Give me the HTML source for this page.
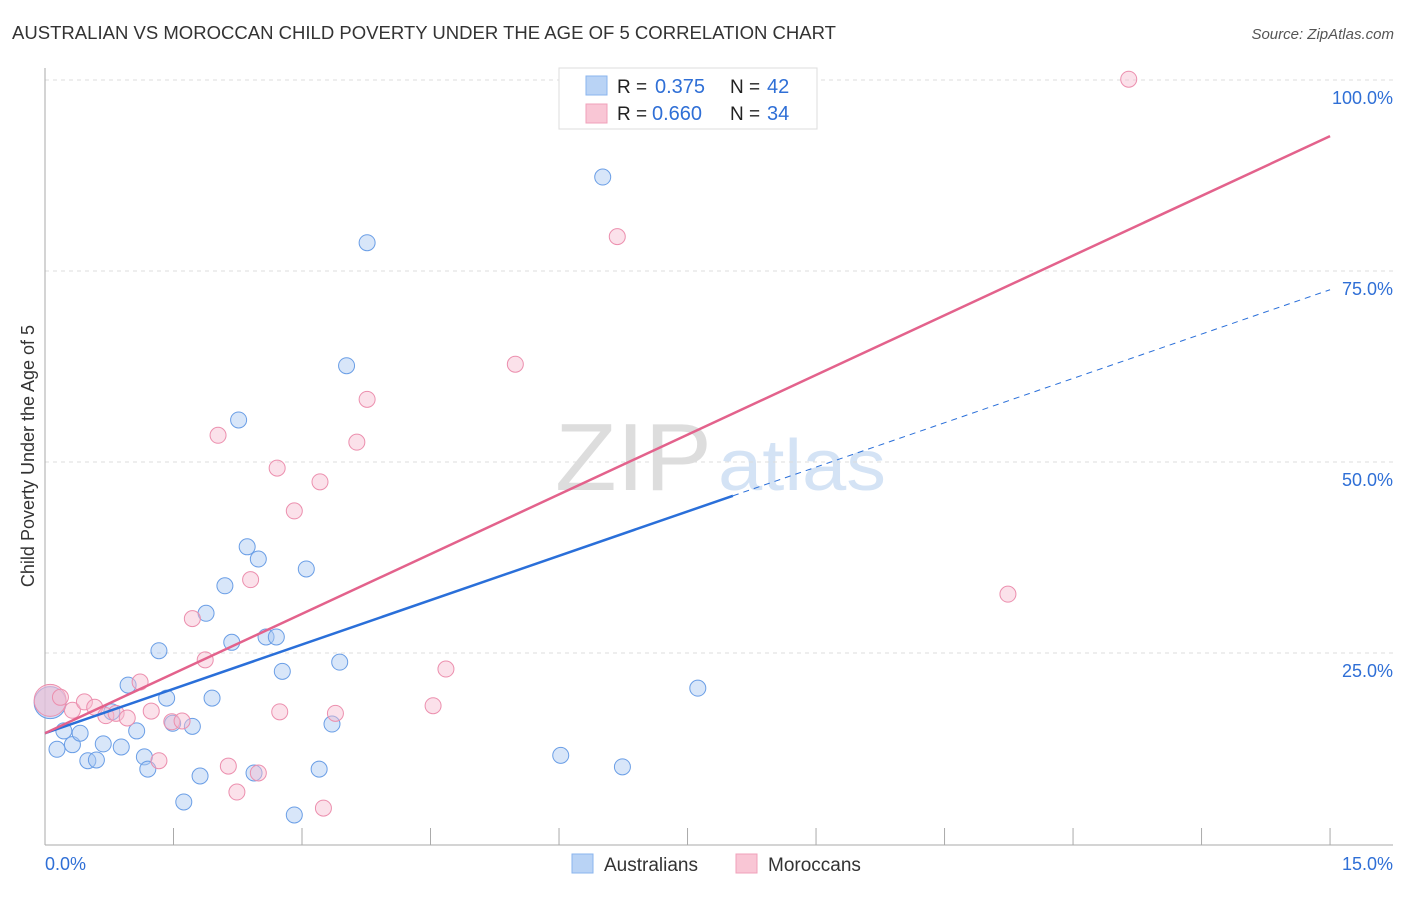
<!DOCTYPE html>
<html><head><meta charset="utf-8">
<style>
body{margin:0;background:#fff;font-family:"Liberation Sans",sans-serif;}
svg text{font-family:"Liberation Sans",sans-serif;}
</style></head><body>
<svg id="chart" width="1406" height="892" xmlns="http://www.w3.org/2000/svg">
<text x="12" y="39" font-size="18" fill="#333" textLength="824" lengthAdjust="spacingAndGlyphs">AUSTRALIAN VS MOROCCAN CHILD POVERTY UNDER THE AGE OF 5 CORRELATION CHART</text>
<text x="1394" y="39" font-size="15" fill="#555" font-style="italic" text-anchor="end">Source: ZipAtlas.com</text>
<text x="555" y="490" font-size="96" fill="#ddd" font-family="Liberation Serif" textLength="157" lengthAdjust="spacingAndGlyphs">ZIP</text>
<text x="718" y="490" font-size="72" fill="#d4e3f5" textLength="168" lengthAdjust="spacingAndGlyphs">atlas</text>
<g id="grid"></g>
<g id="axes"></g>
<g id="marks"></g>
<text transform="translate(34,456) rotate(-90)" font-size="18" fill="#333" text-anchor="middle">Child Poverty Under the Age of 5</text>
<g>
<rect x="559" y="68" width="258" height="61" fill="#fff" stroke="#ddd"/>
<rect x="586" y="76" width="21" height="19" fill="#b9d3f5" stroke="#8ab4ee"/>
<rect x="586" y="104" width="21" height="19" fill="#f9c6d5" stroke="#f0a0ba"/>
<text x="617" y="93" font-size="19" fill="#222">R =</text>
<text x="655" y="93" font-size="20" fill="#2f6fd6">0.375</text>
<text x="730" y="93" font-size="19" fill="#222">N =</text>
<text x="767" y="93" font-size="20" fill="#2f6fd6">42</text>
<text x="617" y="120" font-size="19" fill="#222">R =</text>
<text x="652" y="120" font-size="20" fill="#2f6fd6">0.660</text>
<text x="730" y="120" font-size="19" fill="#222">N =</text>
<text x="767" y="120" font-size="20" fill="#2f6fd6">34</text>
</g>
<g>
<rect x="572" y="854" width="21" height="19" fill="#b9d3f5" stroke="#8ab4ee"/>
<text x="604" y="871" font-size="19" fill="#333">Australians</text>
<rect x="736" y="854" width="21" height="19" fill="#f9c6d5" stroke="#f0a0ba"/>
<text x="768" y="871" font-size="19" fill="#333">Moroccans</text>
</g>
</svg>
<script>
const ausX=[0.06,0.14,0.22,0.32,0.41,0.50,0.60,0.68,0.78,0.89,0.97,1.07,1.16,1.20,1.33,1.42,1.49,1.62,1.72,1.81,1.88,1.95,2.10,2.18,2.26,2.36,2.44,2.49,2.58,2.70,2.77,2.91,3.05,3.20,3.35,3.44,3.52,3.76,6.02,6.51,6.74,7.62];
const ausY=[18.5,12.4,14.8,13.0,14.5,10.9,11.0,13.1,17.3,12.7,20.8,14.8,11.4,9.8,25.3,19.1,15.8,5.5,15.4,8.9,30.2,19.1,33.8,26.4,55.5,38.9,9.3,37.3,27.1,27.1,22.6,3.8,36.0,9.8,15.7,23.8,62.6,78.7,11.6,87.3,10.1,20.4];
const morX=[0.06,0.18,0.32,0.46,0.58,0.71,0.83,0.96,1.11,1.24,1.33,1.48,1.60,1.72,1.87,2.02,2.14,2.24,2.40,2.49,2.71,2.74,2.91,3.21,3.25,3.39,3.64,3.76,4.53,4.68,5.49,6.68,11.24,12.65];
const morY=[18.8,19.2,17.5,18.6,17.9,16.8,17.1,16.5,21.2,17.4,10.9,16.0,16.1,29.5,24.1,53.5,10.2,6.8,34.6,9.3,49.2,17.3,43.6,47.4,4.7,17.1,52.6,58.2,18.1,22.9,62.8,79.5,32.7,100.1];
const ausTrend=[14.5,3.87];
const morTrend=[14.5,5.21];
const yTicks=[25,50,75,100];
const yTickLabels=["25.0%","50.0%","75.0%","100.0%"];
const xTicks=[0,1.5,3,4.5,6,7.5,9,10.5,12,13.5,15];

const NS="http://www.w3.org/2000/svg";
const X=v=>45+v*85.67, Y=v=>844-v*7.64;
function mk(p,t,a){const e=document.createElementNS(NS,t);for(const k in a)e.setAttribute(k,a[k]);p.appendChild(e);return e;}
const grid=document.getElementById('grid'),axes=document.getElementById('axes'),marks=document.getElementById('marks');
yTicks.forEach((v,i)=>{
 const l=mk(grid,'line',{x1:45,x2:1393,y1:Y(v),y2:Y(v),stroke:'#ddd','stroke-dasharray':'4,4'});
 
 
 const t=mk(axes,'text',{x:1393,y:Y(v)+24,'font-size':18,fill:'#2f6fd6','text-anchor':'end'});
 t.textContent=yTickLabels[i];
 
 
});
mk(axes,'line',{x1:45,x2:45,y1:68,y2:845,stroke:'#aaa'});
mk(axes,'line',{x1:45,x2:1393,y1:845,y2:845,stroke:'#aaa'});
xTicks.forEach(v=>{
 const l=mk(axes,'line',{x1:X(v),x2:X(v),y1:828,y2:845,stroke:'#aaa'});
 
 
});
const xl0=mk(axes,'text',{x:45,y:870,'font-size':18,fill:'#2f6fd6'});xl0.textContent='0.0%';


const xl1=mk(axes,'text',{x:1393,y:870,'font-size':18,fill:'#2f6fd6','text-anchor':'end'});xl1.textContent='15.0%';



function dots(xs,ys,fill,stroke,name){
 xs.forEach((x,i)=>{
  const big=i===0;
  const c=mk(marks,'circle',{cx:X(x),cy:Y(ys[i]),r:big?16:8,fill:fill,'fill-opacity':big?0.6:0.45,stroke:stroke,'stroke-width':1});
  
  
 });
}
dots(ausX,ausY,'#a9c8f2','#6a9ee6','australians');
dots(morX,morY,'#f7bcd0','#ec8fae','moroccans');
const solidEnd=8.03;
const a1=mk(marks,'line',{x1:X(0),y1:Y(ausTrend[0]),x2:X(solidEnd),y2:Y(ausTrend[0]+ausTrend[1]*solidEnd),stroke:'#2a6fd9','stroke-width':2.5});


const a2=mk(marks,'line',{x1:X(solidEnd),y1:Y(ausTrend[0]+ausTrend[1]*solidEnd),x2:X(15),y2:Y(ausTrend[0]+ausTrend[1]*15),stroke:'#2a6fd9','stroke-width':1,'stroke-dasharray':'6,5'});


const m1=mk(marks,'line',{x1:X(0),y1:Y(morTrend[0]),x2:X(15),y2:Y(morTrend[0]+morTrend[1]*15),stroke:'#e3628c','stroke-width':2.5});


</script>
</body></html>
